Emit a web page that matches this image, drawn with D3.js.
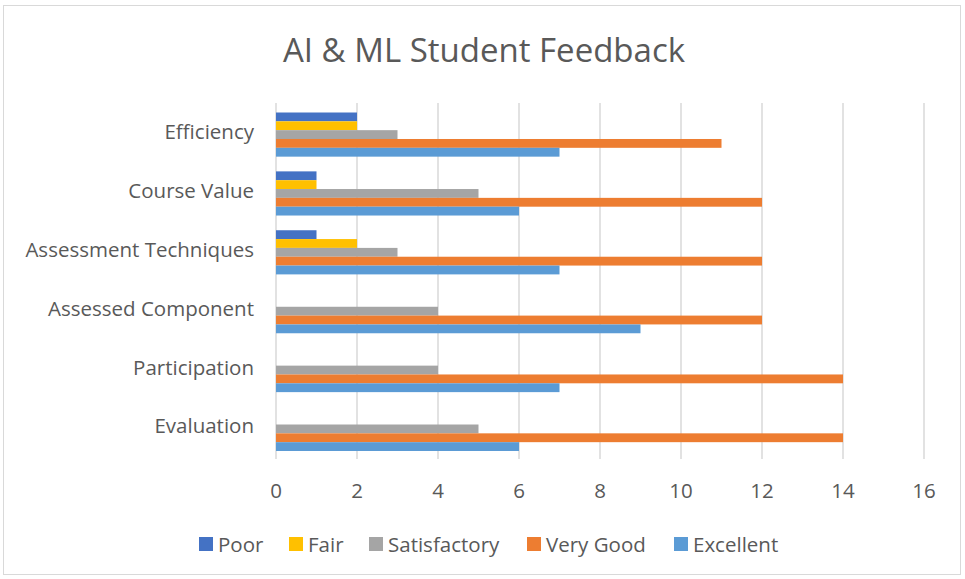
<!DOCTYPE html>
<html>
<head>
<meta charset="UTF-8">
<script src="https://d3js.org/d3.v7.min.js"></script>
<style>
    body { margin: 0; background: #fff; }
    text { font-family: "Open Sans", sans-serif; fill: #595959; }
</style>
</head>
<body>
<svg id="chart" width="965" height="579"></svg>
<script>
// categories top to bottom
const categories = ["Efficiency", "Course Value", "Assessment Techniques", "Assessed Component", "Participation", "Evaluation"]
const seriesNames = ["Poor", "Fair", "Satisfactory", "Very Good", "Excellent"]
const poor = [2, 1, 1, 0, 0, 0]
const fair = [2, 1, 2, 0, 0, 0]
const satisfactory = [3, 5, 3, 4, 4, 5]
const veryGood = [11, 12, 12, 12, 14, 14]
const excellent = [7, 6, 7, 9, 7, 6]
const xTicks = [0, 2, 4, 6, 8, 10, 12, 14, 16]

const seriesValues = [poor, fair, satisfactory, veryGood, excellent]
const colors = ["#4472C4", "#FFC000", "#A5A5A5", "#ED7D31", "#5B9BD5"]

const svg = d3.select("#chart")

// outer frame
svg.append("rect").attr("x", 3.5).attr("y", 5.5).attr("width", 957).attr("height", 569)
    .attr("fill", "#fff").attr("stroke", "#D9D9D9")

svg.append("text").attr("x", 484).attr("y", 62).attr("text-anchor", "middle")
    .style("font-size", "33px").text("AI & ML Student Feedback")

const x = d3.scaleLinear().domain([0, 16]).range([276, 924])
const y = d3.scaleBand().domain(categories).range([112.5, 451]).paddingInner(0.25).paddingOuter(0)
const sub = d3.scaleBand().domain(seriesNames).range([0, y.bandwidth()])

// gridlines
svg.append("g").selectAll("line").data(xTicks).join("line")
    .attr("x1", d => x(d)).attr("x2", d => x(d))
    .attr("y1", 103).attr("y2", 459)
    .attr("stroke", "#D9D9D9").attr("stroke-width", 1.5)

// bars
const groups = svg.append("g").selectAll("g").data(categories).join("g")
    .attr("transform", c => `translate(0,${y(c)})`)
groups.selectAll("rect")
    .data((c, i) => seriesNames.map((s, j) => ({ s: s, v: seriesValues[j][i], j: j })))
    .join("rect")
    .attr("x", x(0))
    .attr("y", d => sub(d.s))
    .attr("width", d => x(d.v) - x(0))
    .attr("height", sub.bandwidth())
    .attr("fill", d => colors[d.j])

// category labels
svg.append("g").selectAll("text").data(categories).join("text")
    .attr("x", 254).attr("y", c => y(c) + y.bandwidth() / 2 - 1)
    .attr("text-anchor", "end").attr("dominant-baseline", "middle")
    .style("font-size", "20.5px").text(c => c)

// x tick labels
svg.append("g").selectAll("text").data(xTicks).join("text")
    .attr("x", d => x(d)).attr("y", 498)
    .attr("text-anchor", "middle").style("font-size", "20.5px").text(d => d)

// legend
const legendX = [199, 289, 369, 527, 674]
const legend = svg.append("g").selectAll("g").data(seriesNames).join("g")
    .attr("transform", (s, i) => `translate(${legendX[i]},537)`)
legend.append("rect").attr("width", 14).attr("height", 14).attr("fill", (s, i) => colors[i])
legend.append("text").attr("x", 19).attr("y", 14.5).style("font-size", "20.5px").text(s => s)
</script>
</body>
</html>
